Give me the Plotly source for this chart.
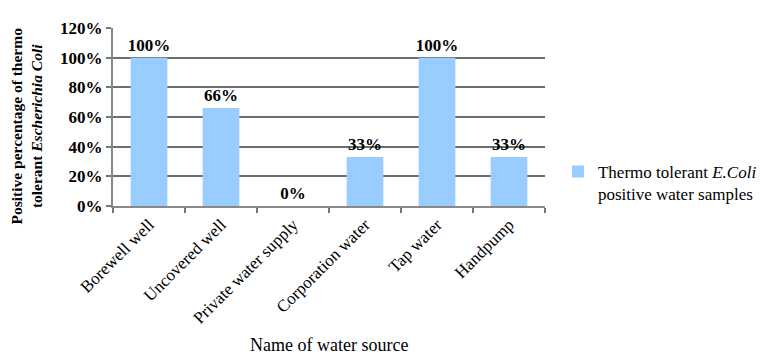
import plotly.graph_objects as go

categories = ["Borewell well", "Uncovered well", "Private water supply",
              "Corporation water", "Tap water", "Handpump"]
values = [100, 66, 0, 33, 100, 33]
labels = ["100%", "66%", "0%", "33%", "100%", "33%"]
tick_vals = [0, 20, 40, 60, 80, 100, 120]
tick_text = ["0%", "20%", "40%", "60%", "80%", "100%", "120%"]

FONT = "Liberation Serif"

fig = go.Figure()
fig.add_trace(go.Bar(
    x=categories, y=values,
    name="Thermo tolerant <i>E.Coli</i><br>positive water samples",
    marker=dict(color="#99CCFF", line=dict(width=0)),
    text=labels, textposition="outside", cliponaxis=False,
    constraintext="none",
    textfont=dict(family=FONT, size=17, color="black"),
    texttemplate="<b>%{text}</b>",
))

fig.update_layout(
    width=765, height=354,
    margin=dict(l=113, r=220, t=28, b=148, autoexpand=False),
    paper_bgcolor="white", plot_bgcolor="white",
    bargap=0.49,
    font=dict(family=FONT, color="black"),
    showlegend=True,
    legend=dict(x=1.03, y=0.13, xanchor="left", yanchor="middle",
                valign="top",
                font=dict(family=FONT, size=17, color="black"),
                itemsizing="constant"),
)
fig.update_xaxes(
    type="category", tickangle=-45, tickson="boundaries",
    ticks="outside", ticklen=5, tickcolor="#777", tickwidth=2,
    showline=True, linecolor="#888", linewidth=2,
    tickfont=dict(family=FONT, size=17, color="black"),
    showgrid=False,
)
fig.update_yaxes(
    range=[0, 120], tickvals=tick_vals, ticktext=[f"<b>{t}</b>" for t in tick_text],
    ticks="outside", ticklen=5, tickcolor="#777", tickwidth=2,
    showline=True, linecolor="#888", linewidth=2,
    showgrid=True, gridcolor="#6e6e6e", gridwidth=1.5,
    tickfont=dict(family=FONT, size=17, color="black"),
    zeroline=False,
)
fig.add_annotation(
    text="Name of water source", xref="paper", yref="paper",
    x=0.5, y=-0.78, xanchor="center", yanchor="middle", showarrow=False,
    font=dict(family=FONT, size=18, color="black"),
)
fig.add_annotation(
    text="<b>Positive percentage of thermo<br>tolerant <i>Escherichia Coli</i></b>",
    xref="paper", yref="paper", x=-0.2, y=0.45,
    xanchor="center", yanchor="middle", showarrow=False, textangle=-90,
    font=dict(family=FONT, size=15.5, color="black"),
)

fig.write_html("out.html")
